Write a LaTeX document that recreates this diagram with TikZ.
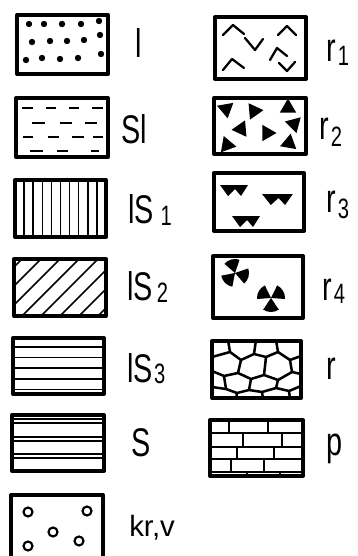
\documentclass[tikz,border=0pt]{standalone}
\usepackage{fontspec}
\newfontfamily\labfont[FakeStretch=0.72]{Liberation Sans}
\newfontfamily\labwide{Liberation Sans}
\newcommand\subd[3]{\kern#1pt\raisebox{-#2pt}{\fontsize{21}{21}\selectfont #3}}
\tikzset{
  frame/.style={line width=3pt, line join=round},
  hatch/.style={line width=1.1pt},
  net/.style={line width=1.9pt, line join=round, line cap=round},
  chev/.style={line width=1.7pt, line join=round, line cap=round},
  lab/.style={anchor=base west, inner sep=0pt, font=\labfont\fontsize{30}{30}\selectfont},
  tri/.pic={\fill (90:9.5)--(210:9.5)--(330:9.5)--cycle;},
  rad/.pic={\foreach \a in {90,210,330}{\fill (0,0)--({\a-34}:14) arc[start angle={\a-34}, end angle={\a+34}, radius=14]--cycle;}},
  wv/.pic={\fill (0,0)--(28,0)--(21,11)--(15,4)--(8,11)--cycle;}
}
\begin{document}
\begin{tikzpicture}[x=0.75pt,y=-0.75pt]
\useasboundingbox (0,0) rectangle (357,556);
\clip (0,0) rectangle (357,556);
\fill[white] (0,0) rectangle (357,556);

% ---------- l ----------
\foreach \p in {(29,24),(44,24),(62,24),(81,24),(99,21),(32,42),(50,41),(67,41),(84,40),(100,35),(26,60),(42,58),(60,59),(78,58),(101,54)}
  \fill \p circle (3.2);
\draw[frame] (17,15) rectangle (108,74);
\node[lab] (tl) at (135,58) {l};

% ---------- Sl ----------
\begin{scope}[line width=1.7pt]
\draw (22,108)--(33,108) (46,108)--(56,108) (69,108)--(79,108) (92,108)--(103,108);
\draw (32,123)--(45,123) (60,123)--(72,123) (85,123)--(97,123);
\draw (23,137)--(33,137) (48,137)--(59,137) (72,137)--(84,137) (93,137)--(103,137);
\draw (30,151)--(43,151) (57,151)--(68,151) (91,151)--(99,151);
\end{scope}
\draw[frame] (16,98) rectangle (108,157);
\node[lab] (tsl) at (121,143) {Sl};

% ---------- lS1 ----------
\foreach \i in {0,...,8} \draw[hatch] ({24.1+\i*9.1},180)--({24.1+\i*9.1},237);
\draw[frame] (15,180) rectangle (106,237);
\node[lab] (tls1) at (128,223) {lS\subd{5}{1.5}{1}};

% ---------- lS2 ----------
\begin{scope}
\clip (14,259) rectangle (106,316);
\foreach \c in {281,300,...,433} \draw[hatch] ({\c-320},320)--({\c-250},250);
\end{scope}
\draw[frame] (14,259) rectangle (106,316);
\node[lab] (tls2) at (127,300) {lS\subd{3}{1.5}{2}};

% ---------- lS3 ----------
\foreach \y in {347,357.5,368,379,389.5} \draw[hatch] (13,\y)--(104,\y);
\draw[frame] (13,338) rectangle (104,394);
\node[lab] (tls3) at (127,382) {lS\subd{1}{1}{3}};

% ---------- S ----------
\foreach \y in {419,423,437,441,454,458} \draw[hatch] (12,\y)--(104,\y);
\draw[frame] (12,415) rectangle (104,471);
\node[lab] (ts) at (131,456) {S};

% ---------- kr,v ----------
\foreach \p in {(28,512),(87,511),(53,532),(79,541),(28,546)}
  \draw[line width=1.6pt] \p circle (4.5);
\draw[frame] (11,562)--(11,495)--(103,495)--(103,562);
\node[lab, font=\labwide\fontsize{22}{22}\selectfont] (tkr) at (129,536) {kr,v};

% ---------- r1 ----------
\draw[chev] (223,35)--(233,25)--(244,34);
\draw[chev] (245,38)--(255,50)--(263,39);
\draw[chev] (278,35)--(287,26)--(296,35);
\draw[chev] (223,70)--(232,59)--(244,68);
\draw[chev] (270,60)--(277,48)--(287,56);
\draw[chev] (279,63)--(287,71)--(295,62);
\draw[frame] (215,17) rectangle (306,79);
\node[lab] (tr1) at (326,62) {r\subd{1.5}{3}{1}};

% ---------- r2 ----------
\pic[rotate=10] at (226,109) {tri};
\pic[rotate=-25] at (254,111) {tri};
\pic[rotate=180] at (288,108) {tri};
\pic[rotate=35] at (241,129) {tri};
\pic[rotate=-30] at (267,133) {tri};
\pic[rotate=15] at (294,124) {tri};
\pic[rotate=200] at (227,145) {tri};
\pic[rotate=170] at (289,143) {tri};
\draw[frame] (214,98) rectangle (306,154);
\node[lab] (tr2) at (319,140) {r\subd{1.5}{5}{2}};

% ---------- r3 ----------
\pic at (220,185) {wv};
\pic[xscale=1.1] at (262,194) {wv};
\pic at (232,216) {wv};
\draw[frame] (214,173) rectangle (304,231);
\node[lab] (tr3) at (326,212) {r\subd{1.5}{4.5}{3}};

% ---------- r4 ----------
\pic[rotate=75] at (235,273) {rad};
\pic at (271,298) {rad};
\draw[frame] (213,256) rectangle (303,318);
\node[lab] (tr4) at (322,300) {r\subd{1.5}{2.5}{4}};

% ---------- r ----------
\begin{scope}
\clip (212,341) rectangle (301,398);
\draw[net] (212,357)--(230,352)--(241,360)--(254,354)--(266,357)--(278,352)--(290,360)--(301,356);
\draw[net] (230,352)--(228,340) (254,354)--(256,340) (278,352)--(276,340);
\draw[net] (241,360)--(238,373) (266,357)--(264,375) (290,360)--(292,372);
\draw[net] (212,371)--(224,376)--(238,373)--(251,379)--(264,375)--(278,380)--(292,372)--(301,374);
\draw[net] (224,376)--(226,389) (251,379)--(249,390) (278,380)--(276,388);
\draw[net] (212,387)--(226,389)--(237,393)--(249,390)--(262,392)--(276,388)--(289,391)--(301,386);
\draw[net] (237,393)--(236,399) (262,392)--(263,399) (289,391)--(290,399);
\end{scope}
\draw[frame] (212,341) rectangle (301,398);
\node[lab] (tr) at (326,379) {r};

% ---------- p ----------
\begin{scope}[line width=1.5pt]
\foreach \y in {433,447,459,471.5} \draw (210,\y)--(303,\y);
\draw (229,420)--(229,433) (268,420)--(268,433);
\draw (243,433)--(243,447) (282,433)--(282,447);
\draw (237,447)--(237,459) (274,447)--(274,459);
\draw (231,459)--(231,471.5) (264,459)--(264,471.5);
\draw (247,471.5)--(247,476) (280,471.5)--(280,476);
\end{scope}
\draw[frame] (210,420) rectangle (303,476);
\node[lab] (tp) at (326,455) {p};
\end{tikzpicture}
\end{document}
